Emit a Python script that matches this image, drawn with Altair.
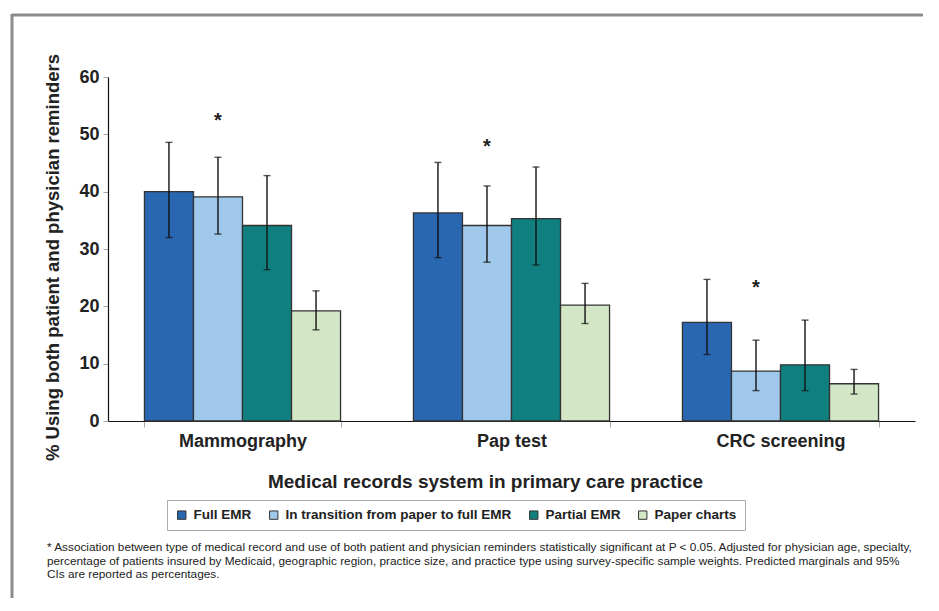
import altair as alt
import pandas as pd

categories = ["Mammography", "Pap test", "CRC screening"]
systems = ["Full EMR", "In transition from paper to full EMR", "Partial EMR", "Paper charts"]
colors = ["#2a67b1", "#9fc8ea", "#0f807f", "#d3e7c6"]

full_emr = [40.0, 36.3, 17.2]
full_emr_lo = [32.0, 28.5, 11.6]
full_emr_hi = [48.6, 45.1, 24.7]

transition = [39.1, 34.1, 8.7]
transition_lo = [32.6, 27.7, 5.3]
transition_hi = [46.0, 41.0, 14.1]

partial_emr = [34.1, 35.3, 9.8]
partial_emr_lo = [26.4, 27.2, 5.3]
partial_emr_hi = [42.8, 44.3, 17.6]

paper = [19.2, 20.2, 6.5]
paper_lo = [15.9, 17.0, 4.7]
paper_hi = [22.7, 24.0, 9.0]

asterisk_y = [52.3, 47.8, 23.2]

footnote_lines = [
    "* Association between type of medical record and use of both patient and physician reminders statistically significant at P < 0.05.  Adjusted for physician age, specialty,",
    "percentage of  patients insured by Medicaid, geographic region, practice size, and practice type using survey-specific sample weights.  Predicted marginals and 95%",
    "CIs are reported as percentages.",
]

rows = []
series = [
    (full_emr, full_emr_lo, full_emr_hi),
    (transition, transition_lo, transition_hi),
    (partial_emr, partial_emr_lo, partial_emr_hi),
    (paper, paper_lo, paper_hi),
]
for s, (v, lo, hi) in zip(systems, series):
    for i, c in enumerate(categories):
        rows.append({"category": c, "system": s, "value": v[i], "lo": lo[i], "hi": hi[i]})
df = pd.DataFrame(rows)

ast_df = pd.DataFrame({"category": categories, "system": [systems[1]] * 3, "y": asterisk_y, "t": ["*"] * 3})

FONT = "Liberation Sans"

x_enc = alt.X(
    "category:N",
    sort=categories,
    scale=alt.Scale(paddingInner=0.271, paddingOuter=0.1355),
    axis=alt.Axis(
        title="Medical records system in primary care practice",
        labelAngle=0,
        tickBand="extent",
        tickColor="#aaaaaa",
        tickSize=6,
        domainColor="#111111",
        domainWidth=1.2,
        labelFont=FONT,
        labelFontSize=18,
        labelFontWeight="bold",
        labelColor="#222222",
        labelPadding=5,
        titleFont=FONT,
        titleFontSize=19,
        titleFontWeight="bold",
        titleColor="#222222",
        titleX=377,
        titleY=60,
        titleAlign="center",
        titleBaseline="middle",
    ),
)
xo_enc = alt.XOffset("system:N", sort=systems, scale=alt.Scale(paddingInner=0, paddingOuter=0))

y_scale = alt.Scale(domain=[0, 60], nice=False)
y_axis = alt.Axis(
    title="% Using both patient and physician reminders",
    values=[0, 10, 20, 30, 40, 50, 60],
    grid=False,
    tickColor="#aaaaaa",
    tickSize=5,
    domainColor="#111111",
    domainWidth=1.2,
    labelFont=FONT,
    labelFontSize=18,
    labelFontWeight="bold",
    labelColor="#222222",
    labelPadding=4,
    titleFont=FONT,
    titleFontSize=18.5,
    titleFontWeight="bold",
    titleColor="#222222",
    titleX=-56,
    titleY=180,
    titleAlign="center",
    titleBaseline="middle",
)

base = alt.Chart(df)

bars = base.mark_bar(stroke="#333333", strokeWidth=1.3).encode(
    x=x_enc,
    xOffset=xo_enc,
    y=alt.Y("value:Q", scale=y_scale, axis=y_axis),
    color=alt.Color(
        "system:N",
        sort=systems,
        scale=alt.Scale(domain=systems, range=colors),
        legend=alt.Legend(
            title=None,
            orient="none",
            direction="horizontal",
            legendX=59,
            legendY=423,
            symbolType="square",
            symbolSize=70,
            symbolStrokeColor="#333333",
            symbolStrokeWidth=1,
            labelFont=FONT,
            labelFontSize=13.5,
            labelFontWeight="bold",
            labelColor="#222222",
            labelLimit=500,
            labelOffset=5,
            columnPadding=15,
            padding=8,
            strokeColor="#aaaaaa",
            fillColor="white",
        ),
    ),
)

rules = base.mark_rule(color="#111111", strokeWidth=1.4).encode(
    x=alt.X("category:N", sort=categories),
    xOffset=xo_enc,
    y=alt.Y("lo:Q", scale=y_scale),
    y2="hi:Q",
)
caps_hi = base.mark_tick(color="#111111", thickness=1.4, size=7, orient="horizontal").encode(
    x=alt.X("category:N", sort=categories),
    xOffset=xo_enc,
    y=alt.Y("hi:Q", scale=y_scale),
)
caps_lo = base.mark_tick(color="#111111", thickness=1.4, size=7, orient="horizontal").encode(
    x=alt.X("category:N", sort=categories),
    xOffset=xo_enc,
    y=alt.Y("lo:Q", scale=y_scale),
)

asterisks = alt.Chart(ast_df).mark_text(font=FONT, fontSize=20, fontWeight="bold", color="#222222", baseline="middle").encode(
    x=alt.X("category:N", sort=categories),
    xOffset=alt.XOffset("system:N", sort=systems),
    y=alt.Y("y:Q", scale=y_scale),
    text="t:N",
)

one = alt.Data(values=[{}])
frame_top = alt.Chart(one).mark_rule(color="#8c8c8c", strokeWidth=3).encode(
    x=alt.value(-96), x2=alt.value(815), y=alt.value(-62)
)
frame_left = alt.Chart(one).mark_rule(color="#8c8c8c", strokeWidth=3).encode(
    x=alt.value(-96), y=alt.value(-63), y2=alt.value(530)
)

foot_y = [470, 483.5, 497]
foot = []
for line, yy in zip(footnote_lines, foot_y):
    foot.append(
        alt.Chart(one).mark_text(
            font=FONT,
            fontSize=11.8,
            color="#222222",
            align="left",
            baseline="middle",
        ).encode(x=alt.value(-61), y=alt.value(yy), text=alt.value(line))
    )

chart = alt.layer(frame_top, frame_left, bars, rules, caps_hi, caps_lo, asterisks, *foot).properties(
    width=807,
    height=344,
    autosize=alt.AutoSizeParams(type="none"),
    padding={"left": 100, "top": 69, "right": 8, "bottom": 177},
    background="white",
).configure_view(stroke=None, strokeWidth=0)

chart.save("out.html", embed_options={"renderer": "svg", "actions": False})
